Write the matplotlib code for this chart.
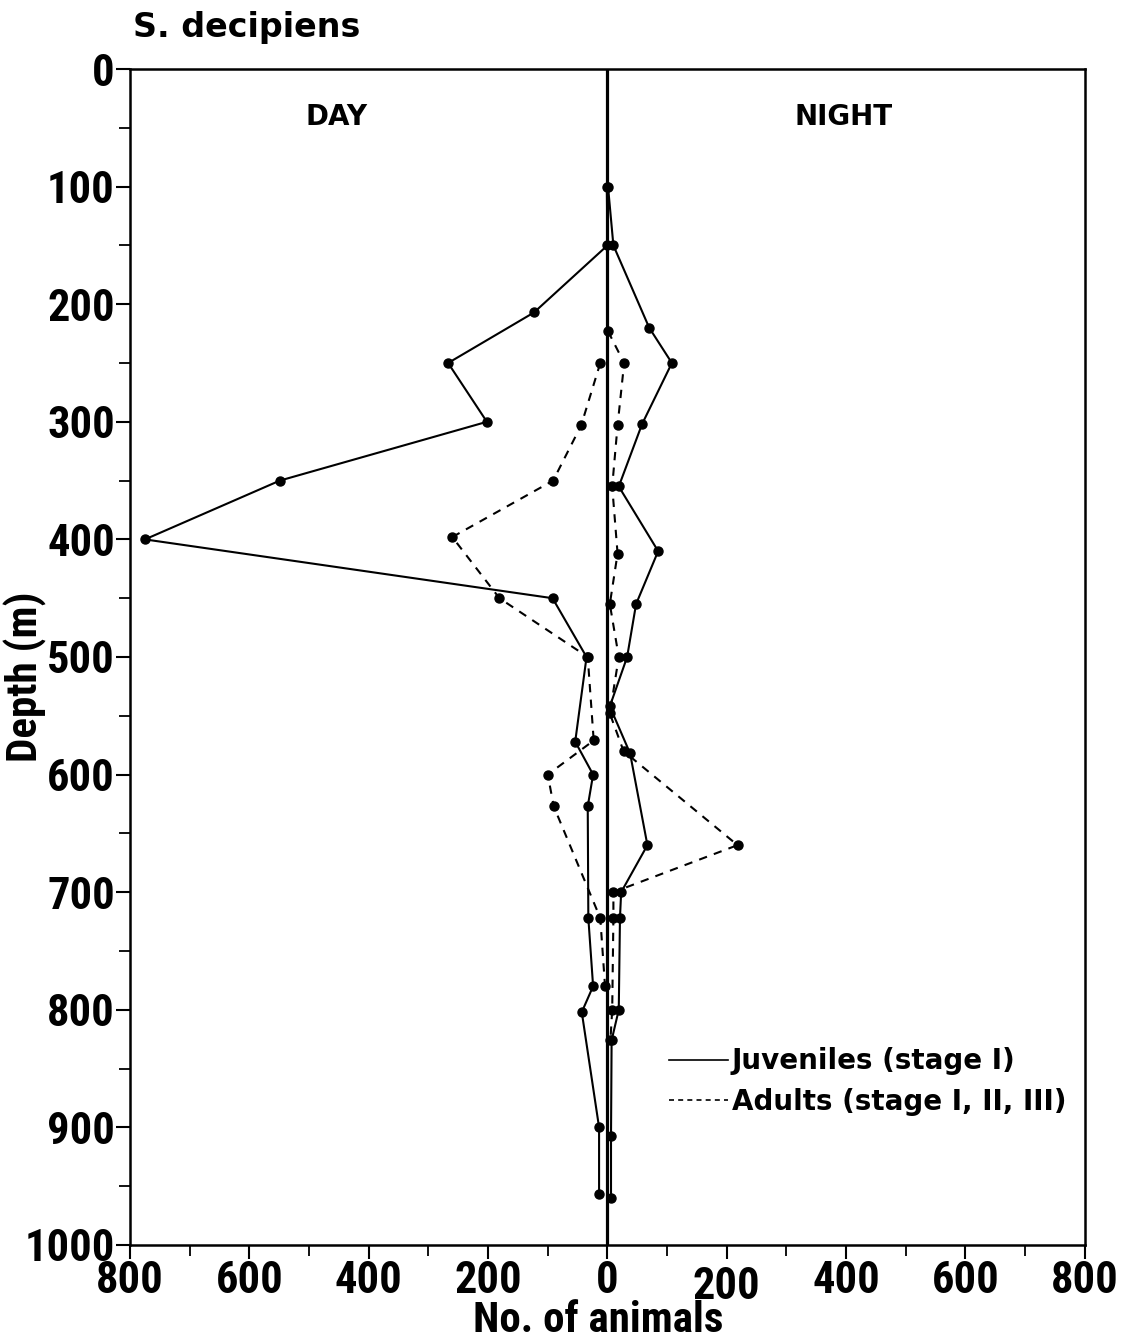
import matplotlib.pyplot as plt
import numpy as np
from matplotlib import font_manager as fm
from matplotlib.lines import Line2D

# Day (left side, plotted as negative counts) and night (right side)
juv_day_depth = [100, 150, 207, 250, 300, 350, 400, 450, 500, 572, 600, 627, 722, 780, 802, 900, 957]
juv_day_n = [1, 0, 123, 267, 202, 549, 775, 92, 35, 54, 24, 33, 32, 24, 43, 14, 14]

adu_day_depth = [250, 303, 350, 398, 450, 500, 571, 600, 627, 722, 780]
adu_day_n = [12, 44, 91, 260, 181, 33, 23, 100, 90, 12, 4]

juv_night_depth = [100, 150, 220, 250, 302, 355, 410, 455, 500, 542, 582, 660, 700, 722, 800, 826, 907, 960]
juv_night_n = [1, 10, 70, 108, 58, 19, 85, 48, 33, 4, 38, 67, 23, 21, 19, 7, 6, 6]

adu_night_depth = [223, 250, 303, 355, 412, 455, 500, 548, 580, 660, 700, 722, 800, 826]
adu_night_n = [1, 28, 17, 8, 17, 4, 19, 4, 27, 218, 10, 10, 8, 5]

xticks = [-800, -600, -400, -200, 0, 200, 400, 600, 800]
xticklabels = ['800', '600', '400', '200', '0', '200', '400', '600', '800']
yticks = [0, 100, 200, 300, 400, 500, 600, 700, 800, 900, 1000]

# condensed face for the tick numbers and axis titles, if one is installed
fonts = fm.fontManager.ttflist
names = {f.name for f in fonts}
narrow = None
for n in ['Liberation Sans Narrow', 'Roboto Condensed', 'Open Sans Condensed']:
    if n in names:
        narrow = {'family': n, 'weight': 'bold'}
        break
if narrow is None and any(f.name == 'DejaVu Sans' and f.stretch == 'condensed' for f in fonts):
    narrow = {'family': 'DejaVu Sans', 'weight': 'bold', 'stretch': 'condensed'}
if narrow is None:
    narrow = {'family': 'DejaVu Sans', 'weight': 'bold'}
    tick_size, lab_size = 23, 26
else:
    tick_size, lab_size = 32, 31

fig = plt.figure(figsize=(11.23, 13.43), dpi=100)
ax = fig.add_axes([0.1158, 0.073, 0.8502, 0.8756])

lw = 1.5
ms = 6.5
dash = (0, (4, 3.5))
ax.plot(-np.array(juv_day_n), juv_day_depth, '-', color='k', lw=lw, marker='o', ms=ms)
ax.plot(-np.array(adu_day_n), adu_day_depth, color='k', lw=lw, ls=dash, marker='o', ms=ms)
ax.plot(juv_night_n, juv_night_depth, '-', color='k', lw=lw, marker='o', ms=ms)
ax.plot(adu_night_n, adu_night_depth, color='k', lw=lw, ls=dash, marker='o', ms=ms)

ax.axvline(0, color='k', lw=2.3, zorder=1)

ax.set_xlim(-800, 800)
ax.set_ylim(1000, 0)

ax.set_xticks(xticks)
ax.set_xticklabels(xticklabels)
ax.set_xticks(np.arange(-700, 800, 200), minor=True)
ax.set_yticks(yticks)
ax.set_yticks(np.arange(50, 1000, 100), minor=True)

ax.tick_params(axis='both', which='major', direction='out', length=10, width=1.5, pad=1)
ax.tick_params(axis='both', which='minor', direction='out', length=8, width=1.3)
for lab in ax.get_xticklabels() + ax.get_yticklabels():
    lab.set(size=tick_size, **narrow)
# the right-hand "200" sits a little lower in the original
ax.xaxis.get_major_ticks()[5].set_pad(5)

for s in ax.spines.values():
    s.set_linewidth(1.8)

ax.set_xlabel('No. of animals', fontsize=lab_size, **narrow)
ax.set_ylabel('Depth (m)', fontsize=lab_size, **narrow)
ax.xaxis.set_label_coords(0.49, -0.047)
ax.yaxis.set_label_coords(-0.087, 0.483)

ax.text(-454, 41, 'DAY', fontsize=20, fontweight='bold', ha='center', va='center')
ax.text(395, 41, 'NIGHT', fontsize=20, fontweight='bold', ha='center', va='center')

fig.text(0.118, 0.992, 'S. decipiens', fontsize=24, fontweight='bold', ha='left', va='top')

handles = [Line2D([], [], color='k', lw=1.2),
           Line2D([], [], color='k', lw=1.2, ls=(0, (3, 2.5)))]
ax.legend(handles, ['Juveniles (stage I)', 'Adults (stage I, II, III)'],
          loc='upper left', bbox_to_anchor=(0.565, 0.168), frameon=False,
          borderpad=0, borderaxespad=0, handlelength=2.1, handletextpad=0.15,
          labelspacing=0.45, prop={'weight': 'bold', 'size': 20})

fig.savefig('out.png', dpi=100)
